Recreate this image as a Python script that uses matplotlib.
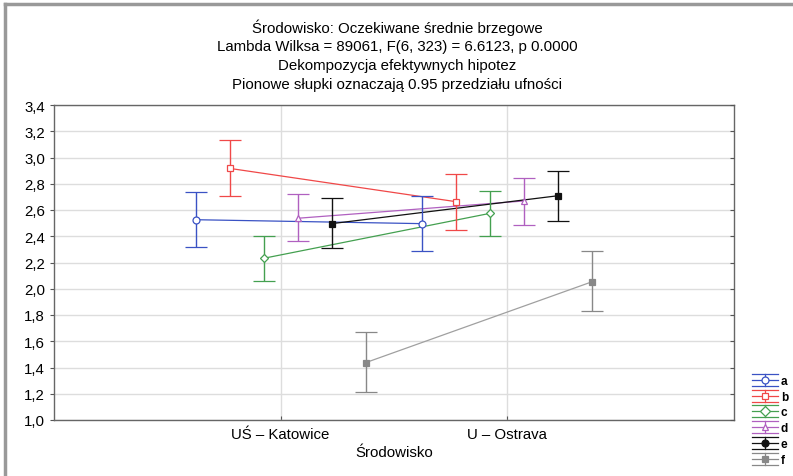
import matplotlib
matplotlib.use("Agg")
import matplotlib.pyplot as plt
import numpy as np
from matplotlib.lines import Line2D
from matplotlib.legend_handler import HandlerBase

plt.rcParams['font.family'] = ['Liberation Sans', 'DejaVu Sans']

categories = ["UŚ – Katowice", "U – Ostrava"]
series = ["a", "b", "c", "d", "e", "f"]
means = {
    "a": [2.526, 2.496],
    "b": [2.917, 2.663],
    "c": [2.232, 2.575],
    "d": [2.537, 2.669],
    "e": [2.496, 2.709],
    "f": [1.437, 2.054],
}
lower = {
    "a": [2.316, 2.290],
    "b": [2.707, 2.450],
    "c": [2.059, 2.400],
    "d": [2.364, 2.486],
    "e": [2.313, 2.519],
    "f": [1.211, 1.833],
}
upper = {
    "a": [2.735, 2.707],
    "b": [3.133, 2.874],
    "c": [2.400, 2.745],
    "d": [2.722, 2.844],
    "e": [2.689, 2.900],
    "f": [1.668, 2.288],
}
yticks = [1.0, 1.2, 1.4, 1.6, 1.8, 2.0, 2.2, 2.4, 2.6, 2.8, 3.0, 3.2, 3.4]
title_lines = [
    "Środowisko: Oczekiwane średnie brzegowe",
    "Lambda Wilksa = 89061, F(6, 323) = 6.6123, p 0.0000",
    "Dekompozycja efektywnych hipotez",
    "Pionowe słupki oznaczają 0.95 przedziału ufności",
]

colors = {"a": "#3a52c4", "b": "#f04848", "c": "#44a050", "d": "#b060c0", "e": "#111111", "f": "#888888"}
line_colors = dict(colors, f="#a0a0a0")
markers = {"a": "o", "b": "s", "c": "D", "d": "^", "e": "s", "f": "s"}
leg_markers = dict(markers, e="o")
filled = {"a": False, "b": False, "c": False, "d": False, "e": True, "f": True}
msizes = {"a": 5, "b": 5, "c": 4, "d": 5, "e": 5, "f": 5}

fig = plt.figure(figsize=(7.93, 4.77), dpi=100)
ax = fig.add_axes([54/793, 1-421/477, (734-54)/793, (421-106)/477])

xpos = np.array([1, 2])
for i, s in enumerate(series):
    off = (i - 2.5) * 0.15
    x = xpos + off
    m = np.array(means[s])
    lo = m - np.array(lower[s])
    hi = np.array(upper[s]) - m
    ax.plot(x, m, color=line_colors[s], lw=0.9, zorder=3)
    ax.errorbar(x, m, yerr=[lo, hi], fmt=markers[s], color=colors[s],
                ecolor=colors[s], elinewidth=1.0, capsize=8, capthick=1.0,
                markersize=msizes[s],
                markerfacecolor=colors[s] if filled[s] else "white",
                markeredgecolor=colors[s], markeredgewidth=0.9, zorder=4)

ax.set_xlim(0, 3)
ax.set_ylim(1.0, 3.4)
ax.set_xticks(xpos)
ax.set_xticklabels(categories, fontsize=10.8)
ax.set_yticks(yticks)
ax.set_yticklabels([f"{v:.1f}".replace(".", ",") for v in yticks], fontsize=10.8)
ax.grid(True, color="#dddddd", lw=1.0)
ax.set_axisbelow(True)
for sp in ax.spines.values():
    sp.set_color("#666666")
    sp.set_linewidth(1.0)
ax.tick_params(axis="y", direction="out", length=3, color="#555555")
ax.tick_params(axis="x", direction="in", length=3, color="#555555", pad=5)
ax.set_xlabel("Środowisko", fontsize=10.8, labelpad=3)

ax2 = ax.twinx()
ax2.set_ylim(1.0, 3.4)
ax2.set_yticks(yticks)
ax2.tick_params(axis="y", direction="in", length=3, color="#555555", labelright=False)
for sp in ax2.spines.values():
    sp.set_visible(False)

for k, t in enumerate(title_lines):
    fig.text(397/793, 1 - (28 + 19*k)/477, t, ha="center", va="center", fontsize=10.8)


class HandlerEB(HandlerBase):
    def create_artists(self, legend, orig_handle, xdescent, ydescent, width, height, fontsize, trans):
        color, marker, mfc = orig_handle
        x0, x1 = -xdescent, width - xdescent
        yc = (height - ydescent) / 2
        h = 4.3
        xm = (x0 + x1) / 2
        arts = []
        for yy in (yc - h, yc, yc + h):
            arts.append(Line2D([x0, x1], [yy, yy], color=color, lw=0.9))
        arts.append(Line2D([xm, xm], [yc - h, yc + h], color=color, lw=0.9))
        arts.append(Line2D([xm], [yc], marker=marker, markersize=5, color=color,
                           markerfacecolor=mfc, markeredgecolor=color, markeredgewidth=0.9))
        for a in arts:
            a.set_transform(trans)
        return arts


proxies = [(colors[s], leg_markers[s], colors[s] if filled[s] else "white") for s in series]
leg = fig.legend(proxies, series, loc="upper left", bbox_to_anchor=(746/793, 1-370/477),
                 frameon=False, fontsize=8.5, handlelength=2.2, labelspacing=0.32,
                 handletextpad=0.25, borderpad=0,
                 handler_map={tuple: HandlerEB()})
for t in leg.get_texts():
    t.set_fontweight("bold")

# figure frame (left and top border)
fig.add_artist(Line2D([5/793, 5/793], [0, 1-5/477], transform=fig.transFigure, color="#999999", lw=2.5))
fig.add_artist(Line2D([5/793, 1], [1-5/477, 1-5/477], transform=fig.transFigure, color="#999999", lw=2.5))

fig.savefig("out.png", dpi=100)
